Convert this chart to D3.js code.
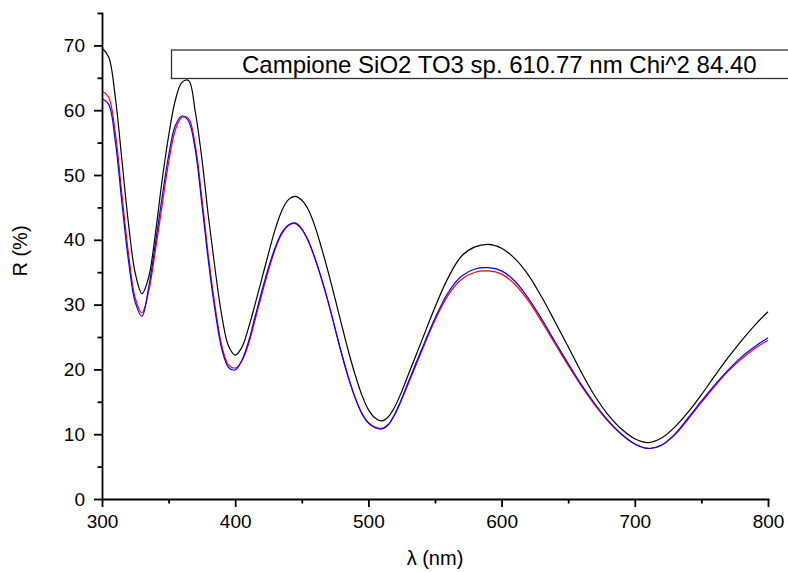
<!DOCTYPE html>
<html>
<head>
<meta charset="utf-8">
<script src="https://cdn.jsdelivr.net/npm/d3@7"></script>
<style>
  body { margin: 0; background: #fff; }
  text { font-family: "Liberation Sans", Arial, sans-serif; }
</style>
</head>
<body>
<script>
// wavelength grid (nm)
const wavelength = [300,305,310,315,320,325,330,335,340,345,350,355,360,365,370,375,380,385,390,395,
  400,405,410,415,420,425,430,435,440,445,450,455,460,465,470,475,480,485,490,495,
  500,505,510,515,520,525,530,535,540,550,560,570,580,590,600,610,620,630,640,650,
  660,670,680,690,700,710,720,730,740,750,760,770,780,790,800];

// black curve - measured R (%)
const measured = [69.6,68.2,62.0,52.2,42.3,34.8,31.7,34.2,40.8,49.0,56.0,61.5,64.3,64.6,59.8,52.5,43.4,35.3,28.2,23.6,
  22.2,23.4,26.4,30.1,34.0,37.9,41.6,44.5,46.2,46.7,46.1,44.6,42.0,38.6,34.9,30.9,26.8,22.8,19.2,16.1,
  13.8,12.5,12.05,12.7,14.3,16.6,19.2,21.8,24.4,29.6,34.2,37.5,38.9,39.3,38.7,37.1,34.6,31.2,27.4,23.5,
  19.5,15.9,13.0,10.8,9.3,8.7,9.4,11.1,13.4,16.1,19.0,21.8,24.4,26.8,28.9];

// red curve
const fitRed = [63.0,62.0,56.5,46.9,37.7,31.0,28.7,32.0,38.2,45.1,51.9,56.9,58.9,58.7,54.6,46.4,37.3,29.6,23.6,20.7,
  20.2,21.3,23.9,27.7,31.6,35.3,38.5,40.9,42.2,42.5,41.6,39.7,37.0,33.8,30.2,26.3,22.4,18.8,15.7,13.3,
  11.8,11.1,10.9,11.5,13.1,15.3,17.8,20.3,22.8,27.6,31.5,33.9,35.0,35.2,34.7,33.1,30.6,27.4,24.0,20.6,
  17.4,14.5,12.0,10.0,8.5,7.8,8.3,9.9,12.3,14.9,17.4,19.7,21.6,23.2,24.5];

// blue curve
const fitBlue = [61.8,60.9,55.2,45.6,36.6,30.3,28.2,32.6,39.3,46.4,53.0,57.6,59.1,58.3,53.9,45.5,36.5,28.9,23.1,20.3,
  19.9,21.4,24.3,28.2,32.1,35.7,38.8,41.1,42.3,42.6,41.7,39.8,37.1,33.9,30.3,26.3,22.3,18.7,15.6,13.2,
  11.7,11.0,10.8,11.5,13.2,15.5,18.1,20.6,23.1,27.9,31.9,34.4,35.5,35.7,35.2,33.6,31.0,27.8,24.3,20.9,
  17.6,14.7,12.1,10.0,8.5,7.8,8.3,10.0,12.5,15.1,17.6,19.9,21.9,23.5,24.9];

const xTicks = [300,400,500,600,700,800];
const xMinor = [350,450,550,650,750];
const yTicks = [0,10,20,30,40,50,60,70];
const yMinor = [5,15,25,35,45,55,65,75];
const legendLabel = "Campione SiO2 TO3 sp. 610.77 nm Chi^2 84.40";

const width = 788, height = 572;

const svg = d3.select("body").append("svg")
  .attr("width", width)
  .attr("height", height);

const x = d3.scaleLinear().domain([300, 800]).range([102, 768]);
const y = d3.scaleLinear().domain([0, 75]).range([499, 13]);

// curves
const line = d3.line()
  .x((d, i) => x(wavelength[i]))
  .y(d => y(d))
  .curve(d3.curveCatmullRom);

svg.append("path").attr("d", line(measured))
  .attr("fill", "none").attr("stroke", "#000").attr("stroke-width", 1.2);
svg.append("path").attr("d", line(fitRed))
  .attr("fill", "none").attr("stroke", "#ff0000").attr("stroke-width", 1.2);
svg.append("path").attr("d", line(fitBlue))
  .attr("fill", "none").attr("stroke", "#0000ff").attr("stroke-width", 1.2);

// axes
function styleAxis(g) {
  g.attr("font-family", '"Liberation Sans", Arial, sans-serif').attr("font-size", 19);
  g.selectAll("path, line").attr("stroke", "#000").attr("stroke-width", 1.8);
  g.select(".domain").attr("stroke-linecap", "square");
  g.selectAll("text").attr("fill", "#000");
}

svg.append("g").attr("transform", "translate(0,499)")
  .call(d3.axisBottom(x).tickValues(xMinor).tickSize(4.5).tickSizeOuter(0).tickFormat(""))
  .call(styleAxis)
  .call(g => g.select(".domain").remove());
svg.append("g").attr("transform", "translate(0,499)")
  .call(d3.axisBottom(x).tickValues(xTicks).tickSize(8).tickSizeOuter(0).tickPadding(8).tickFormat(d3.format("d")))
  .call(styleAxis);

svg.append("g").attr("transform", "translate(102,0)")
  .call(d3.axisLeft(y).tickValues(yMinor).tickSize(4.5).tickSizeOuter(0).tickFormat(""))
  .call(styleAxis)
  .call(g => g.select(".domain").remove());
svg.append("g").attr("transform", "translate(102,0)")
  .call(d3.axisLeft(y).tickValues(yTicks).tickSize(8).tickSizeOuter(0).tickPadding(9).tickFormat(d3.format("d")))
  .call(styleAxis);

// axis titles
svg.append("text")
  .attr("x", 435).attr("y", 565)
  .attr("text-anchor", "middle")
  .attr("font-size", 20)
  .text("λ (nm)");

svg.append("text")
  .attr("transform", "translate(27,251) rotate(-90)")
  .attr("text-anchor", "middle")
  .attr("font-size", 20)
  .text("R (%)");

// legend box
svg.append("rect")
  .attr("x", 171.5).attr("y", 50)
  .attr("width", 660).attr("height", 28.5)
  .attr("fill", "#fff")
  .attr("stroke", "#333").attr("stroke-width", 1.3);
svg.append("text")
  .attr("x", 242).attr("y", 73)
  .attr("font-size", 24)
  .text(legendLabel);
</script>
</body>
</html>
